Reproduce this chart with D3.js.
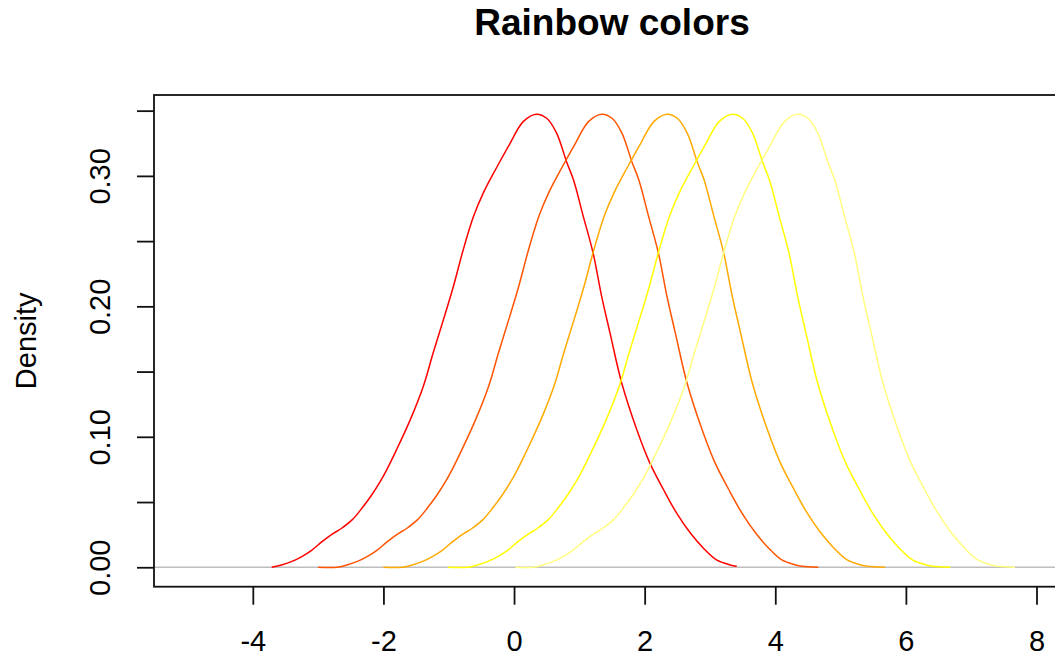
<!DOCTYPE html>
<html>
<head>
<meta charset="utf-8">
<script src="https://cdn.jsdelivr.net/npm/d3@7"></script>
<style>
  html, body { margin: 0; padding: 0; background: #ffffff; }
  svg { display: block; }
  text { font-family: "Liberation Sans", Arial, sans-serif; fill: #000; }
</style>
</head>
<body>
<svg id="chart" width="1055" height="657"></svg>
<script>
// ---- data ----
// base density curve (the first / red series)
const baseX = [-3.71, -3.56, -3.40, -3.25, -3.10, -2.95, -2.79, -2.64, -2.48, -2.33,
               -2.18, -2.05, -1.95, -1.80, -1.59, -1.39, -1.24, -1.08, -0.93, -0.78,
               -0.62, -0.47, -0.26, -0.06, 0.14, 0.34, 0.50, 0.65, 0.81, 0.91,
               1.06, 1.21, 1.34, 1.47, 1.65, 1.88, 2.08, 2.29, 2.49, 2.70,
               2.90, 3.10, 3.31, 3.41];
const baseY = [0.0000, 0.0018, 0.0045, 0.0082, 0.0130, 0.0192, 0.0252, 0.0299, 0.0363, 0.0452,
               0.0554, 0.0656, 0.0747, 0.0900, 0.1130, 0.1386, 0.1640, 0.1900, 0.2150, 0.2430,
               0.2690, 0.2870, 0.3070, 0.3250, 0.3416, 0.3473, 0.3442, 0.3330, 0.3100, 0.2970,
               0.2690, 0.2410, 0.2080, 0.1795, 0.1410, 0.1054, 0.0798, 0.0594, 0.0415, 0.0262,
               0.0146, 0.0056, 0.0018, 0.0008];
// each series is the same density shifted along x, drawn over its own x range
const seriesShifts = [0, 1, 2, 3, 4];
const seriesStart  = [-3.71, -3.00, -2.00, -1.01, 0.02];
const seriesEnd    = [3.41, 4.66, 5.68, 6.68, 7.67];
const seriesColors = ["#FF0000", "#FF5500", "#FFAA00", "#FFFF00", "#FFFF80"];

const xTicks = [-4, -2, 0, 2, 4, 6, 8];
const xTickLabels = ["-4", "-2", "0", "2", "4", "6", "8"];
const yTicks = [0, 0.05, 0.10, 0.15, 0.20, 0.25, 0.30, 0.35];
const yTickLabels = ["0.00", "", "0.10", "", "0.20", "", "0.30", ""];

const titleText = "Rainbow colors";
const yLabelText = "Density";

// ---- layout ----
const plotLeft = 154, plotRight = 1070, plotTop = 95, plotBottom = 586.7;

const svg = d3.select("#chart");

const x = d3.scaleLinear().domain([-5.513, 8.513]).range([plotLeft, plotRight]);
const y = d3.scaleLinear().domain([-0.0149, 0.3620]).range([plotBottom, plotTop]);

// clip
svg.append("defs").append("clipPath").attr("id", "clip")
  .append("rect")
  .attr("x", plotLeft).attr("y", plotTop)
  .attr("width", plotRight - plotLeft).attr("height", plotBottom - plotTop);

const plot = svg.append("g").attr("clip-path", "url(#clip)");

// zero line
plot.append("line")
  .attr("x1", plotLeft).attr("x2", plotRight)
  .attr("y1", y(0)).attr("y2", y(0))
  .attr("stroke", "#BEBEBE").attr("stroke-width", 1.5);

const line = d3.line()
  .x(d => x(d[0]))
  .y(d => y(d[1]))
  .curve(d3.curveCatmullRom.alpha(0.5));

seriesShifts.forEach((s, i) => {
  let pts = baseX.map((bx, j) => [bx + s, baseY[j]]);
  if (seriesStart[i] < pts[0][0] - 0.001) pts.unshift([seriesStart[i], 0]);
  if (seriesEnd[i] > pts[pts.length - 1][0] + 0.001) pts.push([seriesEnd[i], 0]);
  plot.append("path")
    .datum(pts)
    .attr("d", line)
    .attr("fill", "none")
    .attr("stroke", seriesColors[i])
    .attr("stroke-width", 1.5)
    .attr("stroke-linejoin", "round");
});

// box
svg.append("rect")
  .attr("x", plotLeft).attr("y", plotTop)
  .attr("width", plotRight - plotLeft).attr("height", plotBottom - plotTop)
  .attr("fill", "none").attr("stroke", "#111").attr("stroke-width", 1.8);

// x axis
const xAxis = svg.append("g")
  .attr("transform", `translate(0,${plotBottom})`)
  .call(d3.axisBottom(x).tickValues(xTicks)
        .tickFormat((d, i) => xTickLabels[i]).tickSize(18));
xAxis.select(".domain").remove();
xAxis.selectAll(".tick line").attr("stroke", "#111").attr("stroke-width", 1.8);
xAxis.selectAll(".tick text")
  .attr("y", 651 - plotBottom).attr("dy", 0)
  .style("font-size", "29px")
  .style("font-family", '"Liberation Sans", Arial, sans-serif')
  .attr("fill", "#000");

// y axis
const yAxis = svg.append("g")
  .attr("transform", `translate(${plotLeft},0)`)
  .call(d3.axisLeft(y).tickValues(yTicks)
        .tickFormat((d, i) => yTickLabels[i]).tickSize(17));
yAxis.select(".domain").remove();
yAxis.selectAll(".tick line").attr("stroke", "#111").attr("stroke-width", 1.8);
yAxis.selectAll(".tick text")
  .attr("x", 0).attr("dy", 0)
  .attr("text-anchor", "middle")
  .attr("transform", `translate(${110 - plotLeft},0) rotate(-90)`)
  .style("font-size", "29px")
  .style("font-family", '"Liberation Sans", Arial, sans-serif')
  .attr("fill", "#000");

// title
svg.append("text")
  .attr("x", (plotLeft + plotRight) / 2).attr("y", 35)
  .attr("text-anchor", "middle")
  .style("font-size", "37px").style("font-weight", "bold")
  .text(titleText);

// y label
svg.append("text")
  .attr("transform", `translate(36,${(plotTop + plotBottom) / 2}) rotate(-90)`)
  .attr("text-anchor", "middle")
  .style("font-size", "29px")
  .text(yLabelText);
</script>
</body>
</html>
